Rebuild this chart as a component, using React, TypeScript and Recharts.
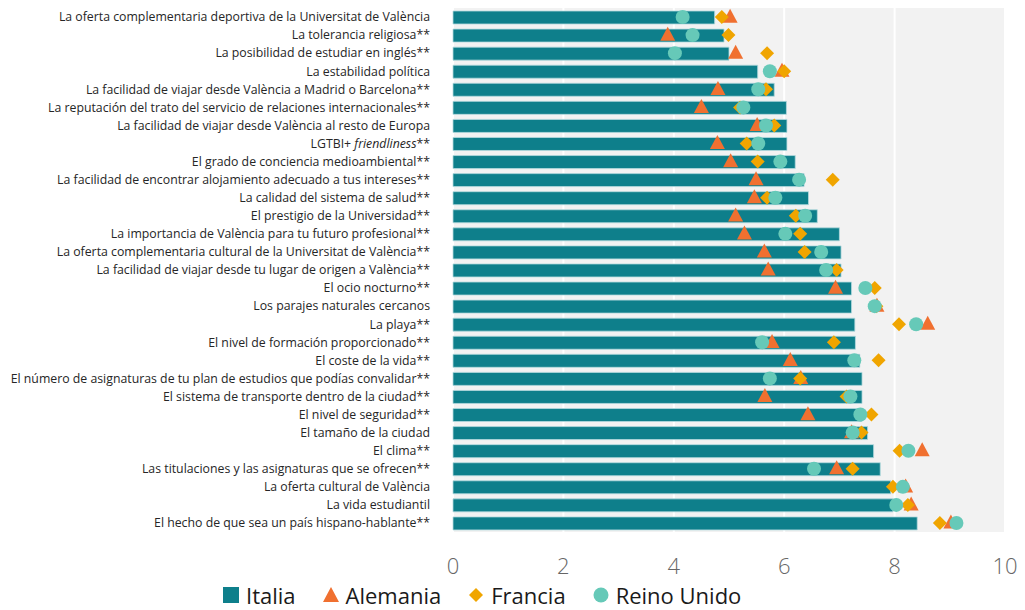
import React from "react";
import {
  ComposedChart,
  Bar,
  Line,
  XAxis,
  YAxis,
  CartesianGrid,
  Legend,
} from "recharts";

const categories = [
  "La oferta complementaria deportiva de la Universitat de València",
  "La tolerancia religiosa**",
  "La posibilidad de estudiar en inglés**",
  "La estabilidad política",
  "La facilidad de viajar desde València a Madrid o Barcelona**",
  "La reputación del trato del servicio de relaciones internacionales**",
  "La facilidad de viajar desde València al resto de Europa",
  "LGTBI+ friendliness**",
  "El grado de conciencia medioambiental**",
  "La facilidad de encontrar alojamiento adecuado a tus intereses**",
  "La calidad del sistema de salud**",
  "El prestigio de la Universidad**",
  "La importancia de València para tu futuro profesional**",
  "La oferta complementaria cultural de la Universitat de València**",
  "La facilidad de viajar desde tu lugar de origen a València**",
  "El ocio nocturno**",
  "Los parajes naturales cercanos",
  "La playa**",
  "El nivel de formación proporcionado**",
  "El coste de la vida**",
  "El número de asignaturas de tu plan de estudios que podías convalidar**",
  "El sistema de transporte dentro de la ciudad**",
  "El nivel de seguridad**",
  "El tamaño de la ciudad",
  "El clima**",
  "Las titulaciones y las asignaturas que se ofrecen**",
  "La oferta cultural de València",
  "La vida estudiantil",
  "El hecho de que sea un país hispano-hablante**",
];

const italia = [
  4.74, 4.91, 5.0, 5.52, 5.82, 6.04, 6.05, 6.05, 6.2, 6.36, 6.44, 6.6, 7.0,
  7.03, 7.03, 7.22, 7.22, 7.28, 7.29, 7.37, 7.41, 7.41, 7.41, 7.51, 7.62, 7.74,
  7.93, 7.97, 8.41,
];
const alemania = [
  5.02, 3.89, 5.12, 5.96, 4.8, 4.5, 5.51, 4.79, 5.03, 5.49, 5.46, 5.12, 5.28,
  5.64, 5.71, 6.93, 7.68, 8.6, 5.78, 6.11, 6.3, 5.65, 6.43, 7.22, 8.5, 6.95,
  8.2, 8.3, 9.02,
];
const francia = [
  4.87, 4.99, 5.69, 6.0, 5.67, 5.2, 5.82, 5.32, 5.52, 6.88, 5.69, 6.21, 6.29,
  6.37, 6.95, 7.64, 7.67, 8.08, 6.9, 7.71, 6.29, 7.13, 7.58, 7.4, 8.09, 7.24,
  7.97, 8.24, 8.82,
];
const reinoUnido = [
  4.16, 4.34, 4.02, 5.74, 5.53, 5.26, 5.67, 5.53, 5.93, 6.27, 5.84, 6.38, 6.02,
  6.67, 6.76, 7.47, 7.64, 8.39, 5.6, 7.27, 5.74, 7.2, 7.38, 7.24, 8.25, 6.54,
  8.15, 8.03, 9.12,
];

const xTicks = [0, 2, 4, 6, 8, 10];

const data = categories.map((name, i) => ({
  name,
  italia: italia[i],
  alemania: alemania[i],
  francia: francia[i],
  reinoUnido: reinoUnido[i],
}));

const C_ITALIA = "#0e7f8b";
const C_ALEMANIA = "#f07030";
const C_FRANCIA = "#f0a500";
const C_REINO = "#66c9b8";

const labelFont = "'Open Sans', sans-serif";

function CategoryTick(props: any) {
  const { x, y, payload } = props;
  const v: string = payload.value;
  const common = {
    x: x - 15,
    y,
    dy: "0.35em",
    textAnchor: "end" as const,
    fontSize: 12.3,
    fontFamily: labelFont,
    fill: "#262626",
  };
  if (v.startsWith("LGTBI+")) {
    return (
      <text {...common}>
        <tspan>LGTBI+ </tspan>
        <tspan fontStyle="italic">friendliness</tspan>
        <tspan>**</tspan>
      </text>
    );
  }
  return <text {...common}>{v}</text>;
}

function triangleDot(props: any) {
  const { cx, cy, key, index } = props;
  if (cx == null || cy == null) return <g key={key ?? index} />;
  const w = 15;
  const h = 14;
  return (
    <path
      key={key ?? index}
      d={`M${cx},${cy - h * 0.6} L${cx + w / 2},${cy + h * 0.4} L${cx - w / 2},${cy + h * 0.4} Z`}
      fill={C_ALEMANIA}
    />
  );
}

function diamondDot(props: any) {
  const { cx, cy, key, index } = props;
  if (cx == null || cy == null) return <g key={key ?? index} />;
  const r = 7;
  return (
    <path
      key={key ?? index}
      d={`M${cx},${cy - r} L${cx + r},${cy} L${cx},${cy + r} L${cx - r},${cy} Z`}
      fill={C_FRANCIA}
    />
  );
}

function circleDot(props: any) {
  const { cx, cy, key, index } = props;
  if (cx == null || cy == null) return <g key={key ?? index} />;
  return <circle key={key ?? index} cx={cx} cy={cy} r={7} fill={C_REINO} />;
}

const legendItems = [
  { label: "Italia", kind: "square", color: C_ITALIA },
  { label: "Alemania", kind: "triangle", color: C_ALEMANIA },
  { label: "Francia", kind: "diamond", color: C_FRANCIA },
  { label: "Reino Unido", kind: "circle", color: C_REINO },
];

function LegendIcon({ kind, color }: { kind: string; color: string }) {
  return (
    <svg width={18} height={18} style={{ marginRight: 6 }}>
      {kind === "square" && <rect x={1} y={1} width={16} height={16} fill={color} />}
      {kind === "triangle" && <path d="M9,1 L17,16 L1,16 Z" fill={color} />}
      {kind === "diamond" && <path d="M9,2 L16,9 L9,16 L2,9 Z" fill={color} />}
      {kind === "circle" && <circle cx={9} cy={9} r={7.5} fill={color} />}
    </svg>
  );
}

function LegendContent() {
  return (
    <div
      style={{
        display: "flex",
        alignItems: "center",
        fontFamily: labelFont,
        fontSize: 22,
        color: "#1a1a1a",
        gap: 26,
        paddingLeft: 222,
      }}
    >
      {legendItems.map((it) => (
        <div key={it.label} style={{ display: "flex", alignItems: "center" }}>
          <LegendIcon kind={it.kind} color={it.color} />
          <span>{it.label}</span>
        </div>
      ))}
    </div>
  );
}

export default function App() {
  return (
    <div style={{ position: "absolute", left: 0, top: 0, background: "#fff" }}>
      <ComposedChart
        width={1025}
        height={610}
        data={data}
        layout="vertical"
        margin={{ top: 8, right: 20, bottom: 0, left: 0 }}
        barCategoryGap={5}
      >
        <CartesianGrid horizontal={false} stroke="#ffffff" strokeWidth={2} fill="#f2f2f2" />
        <XAxis
          type="number"
          domain={[0, 10]}
          ticks={xTicks}
          axisLine={false}
          tickLine={false}
          tickMargin={20}
          height={48}
          tick={{ fontSize: 22, fill: "#666666", fontFamily: labelFont, fontWeight: 300 }}
        />
        <YAxis
          type="category"
          dataKey="name"
          width={453}
          axisLine={false}
          tickLine={false}
          interval={0}
          tick={<CategoryTick />}
        />
        <Legend
          verticalAlign="bottom"
          align="left"
          content={<LegendContent />}
          wrapperStyle={{ left: 0, bottom: 0, width: 1025 }}
        />
        <Bar
          dataKey="italia"
          name="Italia"
          fill={C_ITALIA}
          stroke="#b5dade"
          strokeWidth={0.8}
          barSize={13}
          isAnimationActive={false}
        />
        <Line
          dataKey="alemania"
          name="Alemania"
          stroke="none"
          strokeWidth={0}
          dot={triangleDot}
          activeDot={false}
          isAnimationActive={false}
        />
        <Line
          dataKey="francia"
          name="Francia"
          stroke="none"
          strokeWidth={0}
          dot={diamondDot}
          activeDot={false}
          isAnimationActive={false}
        />
        <Line
          dataKey="reinoUnido"
          name="Reino Unido"
          stroke="none"
          strokeWidth={0}
          dot={circleDot}
          activeDot={false}
          isAnimationActive={false}
        />
      </ComposedChart>
    </div>
  );
}
